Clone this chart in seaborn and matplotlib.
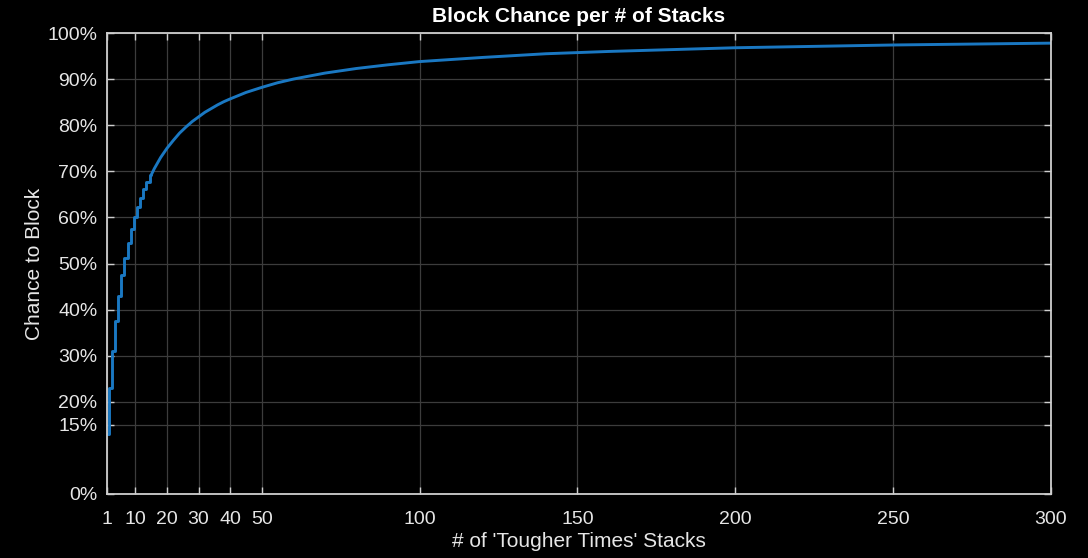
import matplotlib
matplotlib.use("Agg")
import matplotlib.pyplot as plt
import seaborn as sns
import pandas as pd
from matplotlib.ticker import FixedLocator, FuncFormatter

# Block chance (%)
stacks_low = list(range(1, 16))
chance_low = [13.0, 23.1, 31.0, 37.5, 42.9, 47.4, 51.2, 54.5, 57.4, 60.0,
              62.3, 64.3, 66.1, 67.7, 69.2]
stacks_high = [15, 16, 17, 18, 19, 20, 22, 24, 26, 28, 30, 32, 34, 36, 38,
               40, 45, 50, 55, 60, 70, 80, 90, 100,
               120, 140, 160, 180, 200, 225, 250, 275, 300]
chance_high = [69.2, 70.6, 71.8, 73.0, 74.0, 75.0, 76.7, 78.3, 79.6, 80.8,
               81.8, 82.8, 83.6, 84.4, 85.1, 85.7, 87.1, 88.2, 89.2, 90.0,
               91.3, 92.3, 93.1, 93.8, 94.7, 95.5, 96.0, 96.4, 96.8, 97.1,
               97.4, 97.6, 97.8]

x_ticks = [1, 10, 20, 30, 40, 50, 100, 150, 200, 250, 300]
y_ticks = [0, 15, 20, 30, 40, 50, 60, 70, 80, 90, 100]

title = "Block Chance per # of Stacks"
x_label = "# of 'Tougher Times' Stacks"
y_label = "Chance to Block"

txt = "#e6e6e6"
sns.set_theme(style="ticks", rc={
    "figure.facecolor": "black",
    "axes.facecolor": "black",
    "axes.edgecolor": "#cfcfcf",
    "axes.labelcolor": txt,
    "xtick.color": "#cfcfcf",
    "ytick.color": "#cfcfcf",
    "text.color": txt,
    "axes.grid": True,
    "grid.color": "#3c3c3c",
    "grid.linewidth": 0.9,
})
plt.rcParams["font.family"] = ["Liberation Sans", "DejaVu Sans"]

fig = plt.figure(figsize=(10.88, 5.58), dpi=100)
ax = fig.add_axes([107 / 1088, 1 - 494 / 558, (1051 - 107) / 1088, (494 - 33) / 558])

line_color = "#1a78c2"
df_low = pd.DataFrame({"stacks": stacks_low, "chance": chance_low})
df_high = pd.DataFrame({"stacks": stacks_high, "chance": chance_high})
sns.lineplot(data=df_low, x="stacks", y="chance", ax=ax, color=line_color,
             linewidth=2.1, drawstyle="steps-mid", estimator=None, sort=False)
sns.lineplot(data=df_high, x="stacks", y="chance", ax=ax, color=line_color,
             linewidth=2.1, estimator=None, sort=False)

ax.set_xlim(1, 300)
ax.set_ylim(0, 100)
ax.xaxis.set_major_locator(FixedLocator(x_ticks))
ax.yaxis.set_major_locator(FixedLocator(y_ticks))
ax.yaxis.set_major_formatter(FuncFormatter(lambda v, p: f"{int(v)}%"))
ax.tick_params(direction="in", length=5, width=1.0, top=True, right=True,
               labelsize=14, labelcolor=txt)
ax.tick_params(axis="x", pad=12)
ax.tick_params(axis="y", pad=7)
for s in ax.spines.values():
    s.set_visible(True)
    s.set_linewidth(1.3)
    s.set_color("#cfcfcf")

ax.set_title(title, fontsize=15, fontweight="bold", color="white", pad=8)
ax.set_xlabel(x_label, fontsize=15, labelpad=3)
ax.set_ylabel(y_label, fontsize=15, labelpad=2)

fig.savefig("out.png", dpi=100, facecolor="black")
